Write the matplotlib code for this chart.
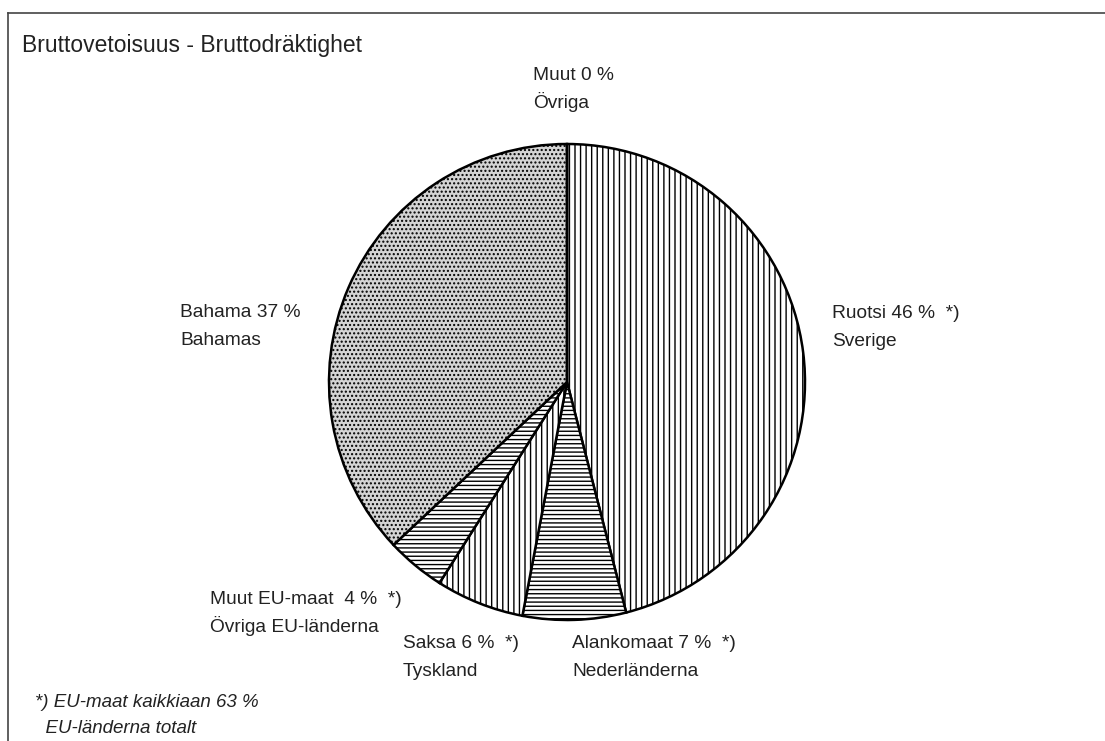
import matplotlib
matplotlib.use("Agg")
import matplotlib.pyplot as plt
from matplotlib.lines import Line2D

plt.rcParams["font.family"] = ["Liberation Sans", "DejaVu Sans"]
plt.rcParams["hatch.linewidth"] = 1.0

# clockwise from 12 o'clock
shares = [46, 7, 6, 4, 37, 0]
hatches = ["|||", "----", "|||", "----", "....", ""]
labels = [
    ("Ruotsi 46 %  *)", "Sverige"),
    ("Alankomaat 7 %  *)", "Nederländerna"),
    ("Saksa 6 %  *)", "Tyskland"),
    ("Muut EU-maat  4 %  *)", "Övriga EU-länderna"),
    ("Bahama 37 %", "Bahamas"),
    ("Muut 0 %", "Övriga"),
]
# first-line baseline (left x, y) in pixel coords of the 1105x741 image
label_pos = [(832, 318), (572, 648), (403, 648), (210, 604), (180, 317), (533, 80)]

title = "Bruttovetoisuus - Bruttodräktighet"
footnote = ["*) EU-maat kaikkiaan 63 %", "  EU-länderna totalt"]

W, H = 1105, 741
LINE = 28
fig = plt.figure(figsize=(W / 100, H / 100), dpi=100)
ax = fig.add_axes([0, 0, 1, 1])

wedges, _ = ax.pie(
    shares,
    startangle=90,
    counterclock=False,
    center=(567, H - 382),
    radius=238,
    wedgeprops=dict(edgecolor="black", linewidth=1.8, facecolor="white"),
)
for w, h in zip(wedges, hatches):
    w.set_hatch(h)
wedges[4].set_facecolor("#d4d4d4")

ax.set_xlim(0, W)
ax.set_ylim(0, H)
ax.set_aspect("equal")
ax.axis("off")

txt = dict(ha="left", va="baseline", color="#222222")
for lines, (x, y) in zip(labels, label_pos):
    for i, line in enumerate(lines):
        ax.text(x, H - y - i * LINE, line, fontsize=13.8, **txt)

ax.text(22, H - 52, title, fontsize=16.5, **txt)
ax.text(35, H - 707, footnote[0], fontsize=13.5, style="italic", **txt)
ax.text(35, H - 733, footnote[1], fontsize=13.5, style="italic", **txt)

# frame (only the left and top edges are visible in the scan)
ax.add_line(Line2D([8, W], [H - 13, H - 13], color="#444444", linewidth=1.2))
ax.add_line(Line2D([8, 8], [0, H - 13], color="#444444", linewidth=1.2))

fig.savefig("out.png", dpi=100)
